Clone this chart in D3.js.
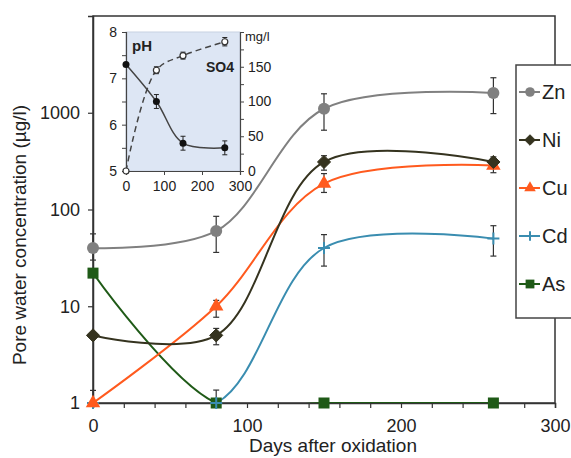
<!DOCTYPE html>
<meta charset="utf-8">
<script src="https://d3js.org/d3.v7.min.js"></script>
<style>
  body { margin: 0; background: #fff; }
  text { font-family: "Liberation Sans", Arial, sans-serif; }
</style>
<div id="chart"></div>
<script>

// data
var days = [0, 80, 150, 260];
var zn   = [40, 60, 1100, 1600];
var znLo = [30, 36, 660, 980];
var znHi = [56, 85, 1570, 2300];
var ni   = [5, 5, 310, 310];
var niLo = [5, 4, 255, 265];
var niHi = [5, 5.9, 360, 350];
var cu   = [1, 10, 185, 285];
var cuLo = [1, 7.7, 150, 240];
var cuHi = [1.35, 11.5, 235, 335];
var cd   = [1, 1, 40, 50];
var cdLo = [1, 1, 26, 33];
var cdHi = [1, 1, 55, 68];
var as   = [22, 1, 1, 1];
var asLo = [22, 1, 1, 1];
var asHi = [22, 1.36, 1, 1];

var yTicks = [1, 10, 100, 1000];
var xTicks = [0, 100, 200, 300];

// inset
var ph    = [7.3, 6.5, 5.6, 5.5];
var phErr = [0, 0.15, 0.15, 0.15];
var so4   = [0, 145, 166, 186];
var so4Err = [0, 5, 5, 6];

var series = [
  {name: "Zn", v: zn, lo: znLo, hi: znHi, color: "#808080", mark: "circle"},
  {name: "Ni", v: ni, lo: niLo, hi: niHi, color: "#35331f", mark: "diamond"},
  {name: "Cu", v: cu, lo: cuLo, hi: cuHi, color: "#ff5a1e", mark: "triangle"},
  {name: "Cd", v: cd, lo: cdLo, hi: cdHi, color: "#3a8db0", mark: "plus"},
  {name: "As", v: as, lo: asLo, hi: asHi, color: "#1f5a17", mark: "square"}
];

var W = 571, H = 458;
var margin = {top: 16, right: 16, bottom: 55, left: 93};
var width = W - margin.left - margin.right,
    height = H - margin.top - margin.bottom;

var svg = d3.select("#chart").append("svg")
    .attr("width", W).attr("height", H);

var g = svg.append("g")
    .attr("transform", "translate(" + margin.left + "," + margin.top + ")");

var x = d3.scaleLinear().domain([0, 300]).range([0, width]);
var y = d3.scaleLog().domain([1, 10000]).range([height, 0]);

g.append("defs").append("clipPath").attr("id", "clip")
  .append("rect").attr("width", width).attr("height", height);

// frame
g.append("rect").attr("width", width).attr("height", height)
    .attr("fill", "none").attr("stroke", "#333").attr("stroke-width", 1.5);

// x axis
var xAxis = g.append("g")
    .attr("transform", "translate(0," + height + ")")
    .call(d3.axisBottom(x).tickValues(d3.range(0, 301, 20)).tickSize(5)
      .tickFormat(function(d) { return xTicks.indexOf(d) >= 0 ? d : ""; }));
xAxis.select(".domain").attr("stroke", "#333").attr("stroke-width", 1.5);
xAxis.selectAll("line").attr("stroke", "#333").attr("stroke-width", 1.2);
xAxis.selectAll("text").attr("font-size", 18).attr("fill", "#222").attr("dy", "1.15em");

// y axis
var yAxis = g.append("g")
    .call(d3.axisLeft(y).tickValues(yTicks).tickSize(5).tickFormat(d3.format("d")));
yAxis.select(".domain").attr("stroke", "#333").attr("stroke-width", 1.5);
yAxis.selectAll("line").attr("stroke", "#333").attr("stroke-width", 1.2);
yAxis.selectAll("text").attr("font-size", 18).attr("fill", "#222").attr("x", -13);

// titles
svg.append("text")
    .attr("x", 333).attr("y", 452)
    .attr("text-anchor", "middle").attr("font-size", 19).attr("fill", "#222")
    .text("Days after oxidation");
svg.append("text")
    .attr("transform", "translate(26,235) rotate(-90)")
    .attr("text-anchor", "middle").attr("font-size", 19).attr("fill", "#222")
    .text("Pore water concentration (µg/l)");

var line = d3.line()
    .x(function(d) { return x(d[0]); })
    .y(function(d) { return y(d[1]); })
    .curve(d3.curveCatmullRom);

function marker(sel, type, color, s) {
  if (type === "circle") {
    sel.append("circle").attr("r", s).attr("fill", color);
  } else if (type === "diamond") {
    sel.append("path").attr("d", d3.symbol(d3.symbolDiamond2, s * s * 2.6)())
      .attr("fill", color).attr("stroke", color).attr("stroke-width", 1);
  } else if (type === "triangle") {
    sel.append("path").attr("d", d3.symbol(d3.symbolTriangle, s * s * 3)())
      .attr("fill", color);
  } else if (type === "plus") {
    sel.append("path").attr("d", "M" + (-s) + ",0H" + s + "M0," + (-s) + "V" + s)
      .attr("stroke", color).attr("stroke-width", 2).attr("fill", "none");
  } else if (type === "square") {
    sel.append("rect").attr("x", -s).attr("y", -s)
      .attr("width", 2 * s).attr("height", 2 * s).attr("fill", color);
  }
}

var plot = g.append("g").attr("clip-path", "url(#clip)");

// lines
series.slice().reverse().forEach(function(s) {
  var pts = days.map(function(d, i) { return [d, s.v[i]]; });
  plot.append("path").datum(pts)
      .attr("d", line)
      .attr("fill", "none")
      .attr("stroke", s.color)
      .attr("stroke-width", 2);
});

// error bars
series.forEach(function(s) {
  days.forEach(function(d, i) {
    var cx = x(d);
    var eb = g.append("g").attr("stroke", "#333").attr("stroke-width", 1.2);
    if (s.hi[i] > s.v[i]) {
      eb.append("line").attr("x1", cx).attr("x2", cx)
        .attr("y1", y(s.v[i])).attr("y2", y(s.hi[i]));
      eb.append("line").attr("x1", cx - 3).attr("x2", cx + 3)
        .attr("y1", y(s.hi[i])).attr("y2", y(s.hi[i]));
    }
    if (s.lo[i] < s.v[i]) {
      eb.append("line").attr("x1", cx).attr("x2", cx)
        .attr("y1", y(s.v[i])).attr("y2", y(s.lo[i]));
      eb.append("line").attr("x1", cx - 3).attr("x2", cx + 3)
        .attr("y1", y(s.lo[i])).attr("y2", y(s.lo[i]));
    }
  });
});

// markers
var markSize = {circle: 6, diamond: 6.5, triangle: 5.5, plus: 6, square: 5.5};
series.slice().reverse().forEach(function(s) {
  days.forEach(function(d, i) {
    var m = g.append("g").attr("transform", "translate(" + x(d) + "," + y(s.v[i]) + ")");
    marker(m, s.mark, s.color, markSize[s.mark]);
  });
});

// legend
var lg = svg.append("g").attr("transform", "translate(516,65)");
lg.append("rect").attr("width", 70).attr("height", 253)
    .attr("fill", "#fff").attr("stroke", "#444").attr("stroke-width", 1.5);
series.forEach(function(s, i) {
  var ly = 27 + i * 48;
  lg.append("line").attr("x1", 3).attr("x2", 24).attr("y1", ly).attr("y2", ly)
    .attr("stroke", s.color).attr("stroke-width", 2);
  var m = lg.append("g").attr("transform", "translate(14," + ly + ")");
  marker(m, s.mark, s.color, markSize[s.mark] * 0.8);
  lg.append("text").attr("x", 26).attr("y", ly + 7)
    .attr("font-size", 20).attr("fill", "#222").text(s.name);
});

// ---- inset ----
var ins = {left: 126, top: 32, w: 114, h: 139};
var ig = svg.append("g").attr("transform", "translate(" + ins.left + "," + ins.top + ")");
var ix = d3.scaleLinear().domain([0, 300]).range([0, ins.w]);
var iyPh = d3.scaleLinear().domain([5, 8]).range([ins.h, 0]);
var iyS = d3.scaleLinear().domain([0, 200]).range([ins.h, 0]);

ig.append("rect").attr("width", ins.w).attr("height", ins.h)
    .attr("fill", "#dde6f4").attr("stroke", "#c8d2e2");

var ax1 = ig.append("g")
    .call(d3.axisLeft(iyPh).tickValues(d3.range(5, 8.01, 0.5)).tickSize(4)
      .tickFormat(function(d) { return d % 1 === 0 ? d : ""; }));
var ax2 = ig.append("g").attr("transform", "translate(" + ins.w + ",0)")
    .call(d3.axisRight(iyS).tickValues(d3.range(0, 201, 25)).tickSize(4)
      .tickFormat(function(d) { return d % 50 === 0 && d < 200 ? d : ""; }));
var ax3 = ig.append("g").attr("transform", "translate(0," + ins.h + ")")
    .call(d3.axisBottom(ix).tickValues(xTicks).tickSize(4));
[ax1, ax2, ax3].forEach(function(a) {
  a.select(".domain").attr("stroke", "#444").attr("stroke-width", 1.2);
  a.selectAll("line").attr("stroke", "#444");
  a.selectAll("text").attr("font-size", 14).attr("fill", "#222");
});
ax1.selectAll("text").attr("x", -9);
ax2.selectAll("text").attr("x", 8);
ax3.selectAll("text").attr("dy", "0.9em");

ig.append("text").attr("x", ins.w + 5).attr("y", 9)
    .attr("font-size", 13).attr("fill", "#222").text("mg/l");
ig.append("text").attr("x", 6).attr("y", 19)
    .attr("font-size", 15).attr("font-weight", "bold").attr("fill", "#222").text("pH");
ig.append("text").attr("x", ins.w - 6).attr("y", 40).attr("text-anchor", "end")
    .attr("font-size", 14).attr("font-weight", "bold").attr("fill", "#222").text("SO4");

var phLine = d3.line()
    .x(function(d) { return ix(d[0]); })
    .y(function(d) { return iyPh(d[1]); })
    .curve(d3.curveCatmullRom);
var soLine = d3.line()
    .x(function(d) { return ix(d[0]); })
    .y(function(d) { return iyS(d[1]); })
    .curve(d3.curveCatmullRom);

ig.append("path").datum(days.map(function(d, i) { return [d, so4[i]]; }))
    .attr("d", soLine).attr("fill", "none").attr("stroke", "#444")
    .attr("stroke-width", 1.5).attr("stroke-dasharray", "6,4");
ig.append("path").datum(days.map(function(d, i) { return [d, ph[i]]; }))
    .attr("d", phLine).attr("fill", "none").attr("stroke", "#444")
    .attr("stroke-width", 1.5);

days.forEach(function(d, i) {
  var cx = ix(d);
  if (phErr[i] > 0) {
    ig.append("path").attr("d",
        "M" + cx + "," + iyPh(ph[i] - phErr[i]) + "V" + iyPh(ph[i] + phErr[i]) +
        "M" + (cx - 2.5) + "," + iyPh(ph[i] - phErr[i]) + "h5" +
        "M" + (cx - 2.5) + "," + iyPh(ph[i] + phErr[i]) + "h5")
      .attr("stroke", "#222").attr("fill", "none");
  }
  if (so4Err[i] > 0) {
    ig.append("path").attr("d",
        "M" + cx + "," + iyS(so4[i] - so4Err[i]) + "V" + iyS(so4[i] + so4Err[i]) +
        "M" + (cx - 2.5) + "," + iyS(so4[i] - so4Err[i]) + "h5" +
        "M" + (cx - 2.5) + "," + iyS(so4[i] + so4Err[i]) + "h5")
      .attr("stroke", "#222").attr("fill", "none");
  }
  ig.append("circle").attr("cx", cx).attr("cy", iyPh(ph[i])).attr("r", 3.5)
    .attr("fill", "#111");
  ig.append("circle").attr("cx", cx).attr("cy", iyS(so4[i])).attr("r", 3)
    .attr("fill", "#fff").attr("stroke", "#333").attr("stroke-width", 1.2);
});

</script>
